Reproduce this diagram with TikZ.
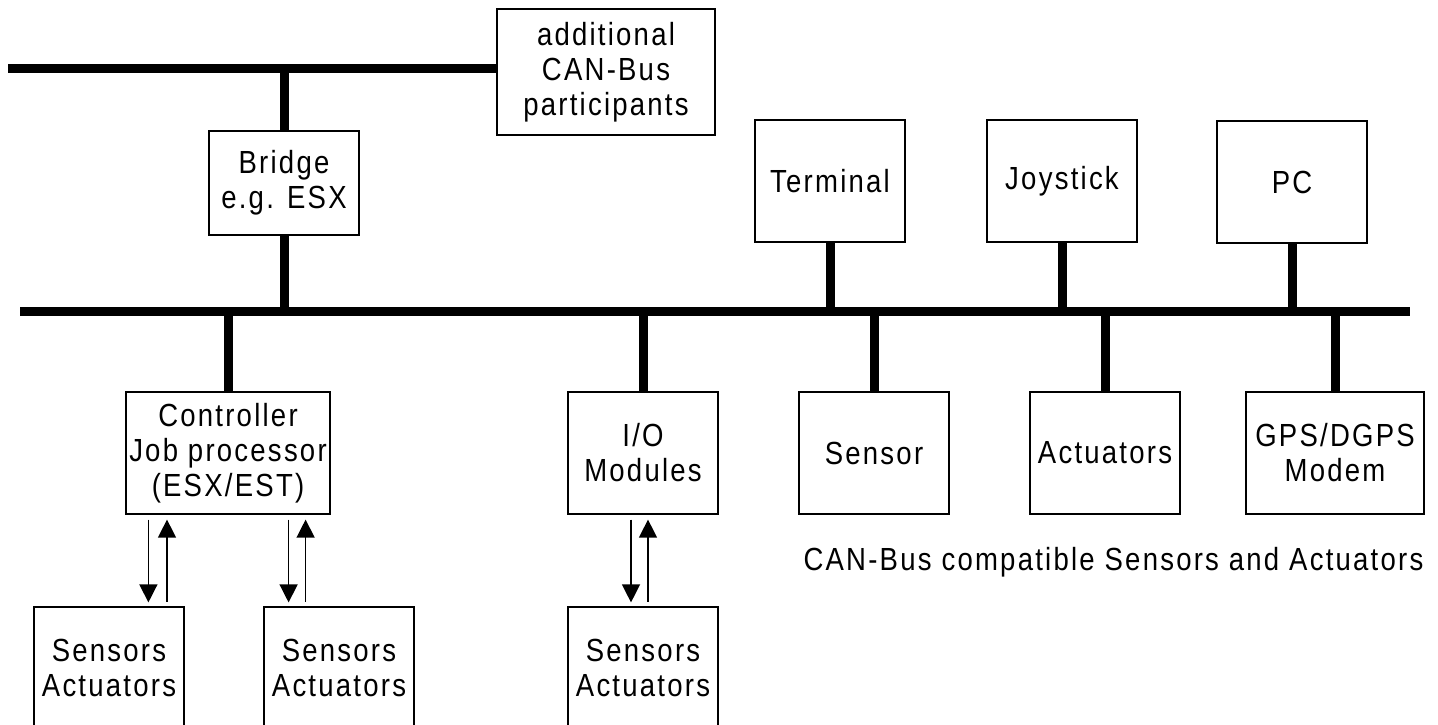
\documentclass[tikz,border=0pt]{standalone}
\usepackage{fontspec}
\setmainfont{Liberation Sans}[FakeStretch=0.86,LetterSpace=7]
\usetikzlibrary{arrows.meta,calc}
\begin{document}
\begin{tikzpicture}[x=1pt,y=-1pt,>={Triangle[length=18pt,width=18pt]},
  every node/.style={font=\fontsize{32}{35}\selectfont},
  box/.style={draw,line width=1.2pt,minimum width=150pt,minimum height=122pt,align=center,inner sep=0pt},
  bus/.style={line width=9pt},
  sig/.style={line width=1.3pt}]
\useasboundingbox (0,0) rectangle (1438,724);
% the two bus lines
\coordinate (topbus) at (8,68);
\coordinate (lowbus) at (20,311);
\coordinate (lowend) at (1410,311);
% participants
\node[box,minimum width=218pt,minimum height=126pt](add) at (606,72){additional\\CAN-Bus\\participants};
\node[box,minimum height=104pt](bridge) at (284,183){Bridge\\e.g. ESX};
\node[box](term) at (830,181){Terminal};
\node[box](joy) at (1062,181){Joystick};
\node[box](pc) at (1292,182){PC};
\node[box,minimum width=204pt](ctrl) at (228,453){Controller\\Job processor\\(ESX/EST)};
\node[box](io) at (643,453){I/O\\Modules};
\node[box](sens) at (874,453){Sensor};
\node[box](act) at (1105,453){Actuators};
\node[box,minimum width=178pt](gps) at (1335,453){GPS/DGPS\\Modem};
\node[box](sa1) at (109,668){Sensors\\Actuators};
\node[box](sa2) at (339,668){Sensors\\Actuators};
\node[box](sa3) at (643,668){Sensors\\Actuators};
\node[anchor=base west](cap) at (800,570){CAN-Bus compatible Sensors and Actuators};
% buses and stubs
\draw[bus] (topbus) -- (add.west |- topbus);
\draw[bus] (lowbus) -- (lowend);
\draw[bus] (bridge.north) -- (bridge.north |- topbus);
\draw[bus] (bridge.south) -- (bridge.south |- lowbus);
\foreach \n in {ctrl,io,sens,act,gps} \draw[bus] (\n.north) -- (\n.north |- lowbus);
\foreach \n in {term,joy,pc} \draw[bus] (\n.south) -- (\n.south |- lowbus);
% signal arrows
\draw[sig,->] ($(ctrl.south west)+(23,5)$) -- ($(ctrl.south west |- sa1.north)+(23,-4)$);
\draw[sig,<-] ($(ctrl.south west)+(41.6,5)$) -- ($(ctrl.south west |- sa1.north)+(41.6,-4)$);
\draw[sig,->] ($(ctrl.south east)+(-42,5)$) -- ($(ctrl.south east |- sa2.north)+(-42,-4)$);
\draw[sig,<-] ($(ctrl.south east)+(-25,5)$) -- ($(ctrl.south east |- sa2.north)+(-25,-4)$);
\draw[sig,->] ($(io.south)+(-12,5)$) -- ($(io.south |- sa3.north)+(-12,-4)$);
\draw[sig,<-] ($(io.south)+(5,5)$) -- ($(io.south |- sa3.north)+(5,-4)$);
\end{tikzpicture}
\end{document}
